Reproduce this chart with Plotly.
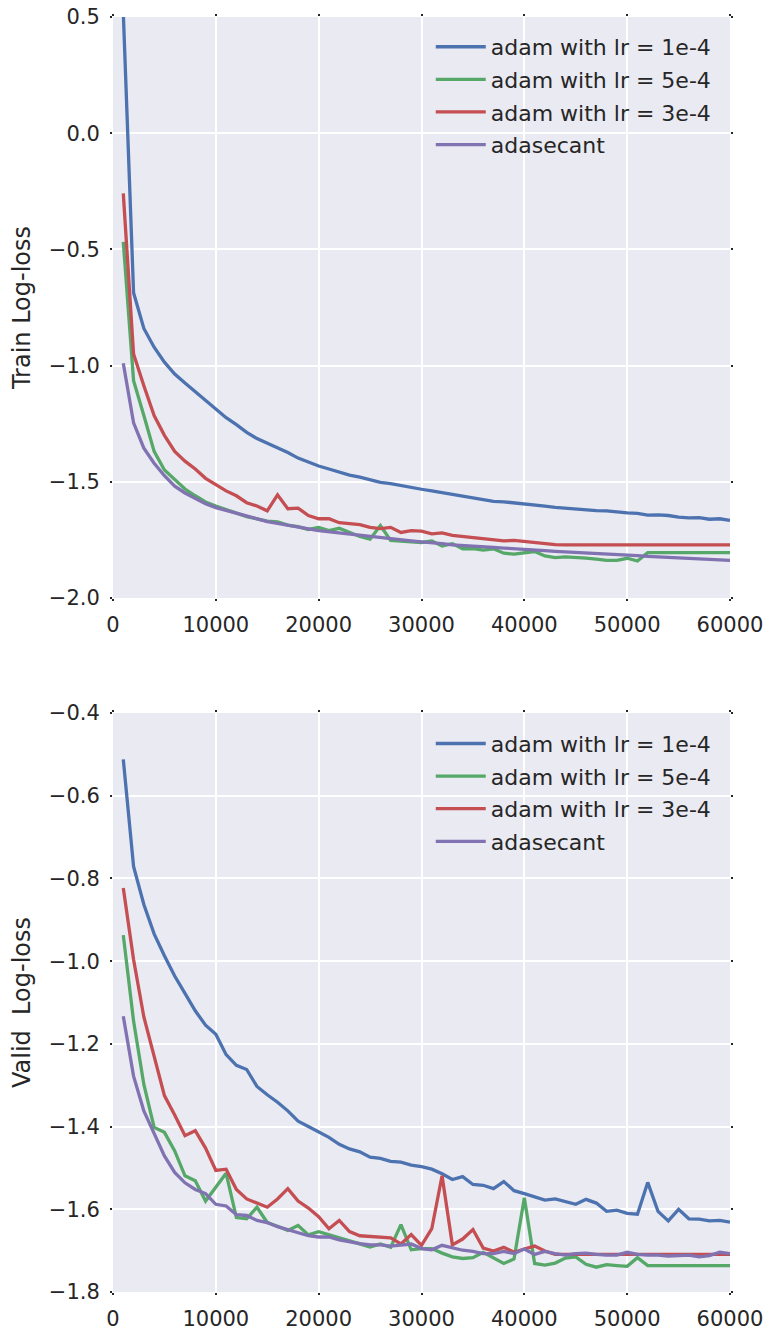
import plotly.graph_objects as go
from plotly.subplots import make_subplots

iterations = list(range(1000, 61000, 1000))

labels = ["adam with lr = 1e-4", "adam with lr = 5e-4", "adam with lr = 3e-4", "adasecant"]
colors = ["#4C72B0", "#55A868", "#C44E52", "#8172B2"]

train_lr1e4 = [0.52, -0.686, -0.840, -0.921, -0.985, -1.036, -1.075, -1.113, -1.150, -1.186,
               -1.224, -1.254, -1.287, -1.314, -1.334, -1.355, -1.374, -1.398, -1.416, -1.432,
               -1.445, -1.459, -1.471, -1.480, -1.491, -1.502, -1.508, -1.517, -1.526, -1.532,
               -1.539, -1.546, -1.553, -1.560, -1.568, -1.576, -1.584, -1.586, -1.590, -1.597,
               -1.600, -1.605, -1.610, -1.614, -1.619, -1.622, -1.624, -1.625, -1.630, -1.634,
               -1.636, -1.643, -1.642, -1.645, -1.652, -1.655, -1.654, -1.661, -1.659, -1.666]
train_lr5e4 = [-0.468, -1.065, -1.215, -1.369, -1.449, -1.488, -1.531, -1.560, -1.587, -1.604,
               -1.619, -1.635, -1.650, -1.659, -1.669, -1.672, -1.686, -1.693, -1.705, -1.696,
               -1.710, -1.700, -1.718, -1.735, -1.747, -1.688, -1.752, -1.756, -1.758, -1.761,
               -1.754, -1.776, -1.766, -1.788, -1.787, -1.794, -1.788, -1.807, -1.811, -1.804,
               -1.800, -1.819, -1.826, -1.823, -1.824, -1.828, -1.833, -1.838, -1.838, -1.829,
               -1.841, -1.805, -1.805, -1.805, -1.805, -1.805, -1.805, -1.805, -1.805, -1.805]
train_lr3e4 = [-0.259, -0.950, -1.087, -1.215, -1.300, -1.369, -1.411, -1.445, -1.485, -1.514,
               -1.539, -1.560, -1.590, -1.604, -1.625, -1.556, -1.616, -1.613, -1.645, -1.659,
               -1.659, -1.676, -1.681, -1.684, -1.696, -1.701, -1.696, -1.718, -1.710, -1.712,
               -1.724, -1.720, -1.730, -1.735, -1.737, -1.744, -1.750, -1.754, -1.752, -1.756,
               -1.762, -1.767, -1.770, -1.771, -1.771, -1.771, -1.771, -1.771, -1.771, -1.771,
               -1.771, -1.771, -1.771, -1.771, -1.771, -1.771, -1.771, -1.771, -1.771, -1.771]
train_adasecant = [-0.990, -1.246, -1.355, -1.420, -1.474, -1.519, -1.548, -1.570, -1.594, -1.611,
                   -1.623, -1.637, -1.650, -1.662, -1.671, -1.679, -1.688, -1.696, -1.703, -1.710,
                   -1.715, -1.722, -1.727, -1.732, -1.737, -1.742, -1.746, -1.749, -1.754, -1.758,
                   -1.761, -1.766, -1.771, -1.773, -1.776, -1.778, -1.782, -1.785, -1.787, -1.790,
                   -1.793, -1.796, -1.799, -1.801, -1.804, -1.807, -1.809, -1.811, -1.814, -1.816,
                   -1.818, -1.821, -1.823, -1.826, -1.828, -1.830, -1.832, -1.834, -1.836, -1.838]

valid_lr1e4 = [-0.512, -0.771, -0.863, -0.934, -0.987, -1.036, -1.078, -1.120, -1.155, -1.177,
               -1.226, -1.252, -1.262, -1.303, -1.323, -1.341, -1.362, -1.387, -1.400, -1.412,
               -1.426, -1.443, -1.454, -1.461, -1.474, -1.477, -1.484, -1.486, -1.493, -1.497,
               -1.503, -1.514, -1.528, -1.521, -1.540, -1.542, -1.550, -1.533, -1.555, -1.562,
               -1.571, -1.578, -1.575, -1.582, -1.588, -1.576, -1.585, -1.605, -1.602, -1.610,
               -1.612, -1.535, -1.605, -1.628, -1.600, -1.623, -1.624, -1.628, -1.627, -1.631]
valid_lr5e4 = [-0.937, -1.145, -1.298, -1.402, -1.414, -1.459, -1.519, -1.531, -1.580, -1.545,
               -1.513, -1.620, -1.623, -1.595, -1.632, -1.641, -1.651, -1.639, -1.662, -1.654,
               -1.661, -1.669, -1.676, -1.684, -1.691, -1.684, -1.692, -1.637, -1.698, -1.695,
               -1.695, -1.706, -1.715, -1.719, -1.717, -1.704, -1.717, -1.731, -1.720, -1.572,
               -1.731, -1.735, -1.730, -1.718, -1.715, -1.733, -1.740, -1.734, -1.736, -1.738,
               -1.717, -1.736, -1.736, -1.736, -1.736, -1.736, -1.736, -1.736, -1.736, -1.736]
valid_lr3e4 = [-0.823, -0.996, -1.135, -1.234, -1.325, -1.372, -1.422, -1.410, -1.452, -1.506,
               -1.503, -1.552, -1.575, -1.585, -1.595, -1.575, -1.550, -1.580, -1.597, -1.618,
               -1.647, -1.627, -1.654, -1.664, -1.666, -1.668, -1.669, -1.684, -1.661, -1.687,
               -1.647, -1.519, -1.686, -1.672, -1.649, -1.694, -1.701, -1.692, -1.704, -1.696,
               -1.689, -1.701, -1.709, -1.709, -1.709, -1.709, -1.709, -1.709, -1.709, -1.709,
               -1.709, -1.709, -1.709, -1.709, -1.709, -1.709, -1.709, -1.709, -1.709, -1.709]
valid_adasecant = [-1.133, -1.278, -1.362, -1.417, -1.471, -1.511, -1.536, -1.552, -1.562, -1.588,
                   -1.592, -1.613, -1.615, -1.627, -1.632, -1.642, -1.649, -1.655, -1.664, -1.667,
                   -1.667, -1.674, -1.679, -1.683, -1.686, -1.686, -1.689, -1.686, -1.684, -1.695,
                   -1.698, -1.687, -1.694, -1.699, -1.702, -1.707, -1.707, -1.702, -1.707, -1.696,
                   -1.709, -1.702, -1.707, -1.711, -1.707, -1.706, -1.709, -1.711, -1.711, -1.704,
                   -1.709, -1.711, -1.711, -1.713, -1.712, -1.711, -1.715, -1.712, -1.704, -1.707]

train_series = [train_lr1e4, train_lr5e4, train_lr3e4, train_adasecant]
valid_series = [valid_lr1e4, valid_lr5e4, valid_lr3e4, valid_adasecant]

x_ticks = [0, 10000, 20000, 30000, 40000, 50000, 60000]
train_yticks = [-2.0, -1.5, -1.0, -0.5, 0.0, 0.5]
valid_yticks = [-1.8, -1.6, -1.4, -1.2, -1.0, -0.8, -0.6, -0.4]

fig = make_subplots(rows=2, cols=1, vertical_spacing=0.09)

for i, (lab, col) in enumerate(zip(labels, colors)):
    fig.add_trace(go.Scatter(x=iterations, y=train_series[i], mode="lines", name=lab,
                             legendgroup="t%d" % i,
                             line=dict(color=col, width=3.3), legend="legend"), row=1, col=1)
for i, (lab, col) in enumerate(zip(labels, colors)):
    fig.add_trace(go.Scatter(x=iterations, y=valid_series[i], mode="lines", name=lab,
                             legendgroup="v%d" % i,
                             line=dict(color=col, width=3.3), legend="legend2"), row=2, col=1)

txt = "#262626"
axis_common = dict(showgrid=True, gridcolor="white", gridwidth=2, zeroline=False,
                   showline=False, ticks="outside", ticklen=2, tickwidth=1.5,
                   tickcolor=txt, mirror="ticks", automargin=False,
                   ticklabeloverflow="allow", tickfont=dict(size=21, color=txt))

fig.update_xaxes(range=[0, 60000], tickvals=x_ticks, tickformat="d",
                 ticklabelstandoff=6, **axis_common)
fig.update_yaxes(ticklabelstandoff=6, **axis_common)
fig.update_yaxes(range=[-2.0, 0.5], tickvals=train_yticks, tickformat=".1f",
                 title=dict(text="Train Log-loss", font=dict(size=24, color=txt), standoff=14),
                 row=1, col=1)
fig.update_yaxes(range=[-1.8, -0.4], tickvals=valid_yticks, tickformat=".1f",
                 title=dict(text="Valid\u00a0 Log-loss", font=dict(size=24, color=txt), standoff=14),
                 row=2, col=1)

fig.layout.yaxis.domain = [0.5443, 1.0]
fig.layout.yaxis2.domain = [0.0, 0.4541]

legend_style = dict(bgcolor="rgba(0,0,0,0)", borderwidth=0, font=dict(size=22, color=txt),
                    xanchor="left", yanchor="top", itemwidth=50, tracegroupgap=1)
fig.update_layout(
    width=763, height=1323,
    margin=dict(l=105, r=41, t=9, b=39),
    paper_bgcolor="white", plot_bgcolor="#EAEAF2",
    font=dict(family="DejaVu Sans", color=txt),
    legend=dict(x=0.515, y=0.993, **legend_style),
    legend2=dict(x=0.515, y=0.4465, **legend_style),
)

fig.write_html("out.html")
